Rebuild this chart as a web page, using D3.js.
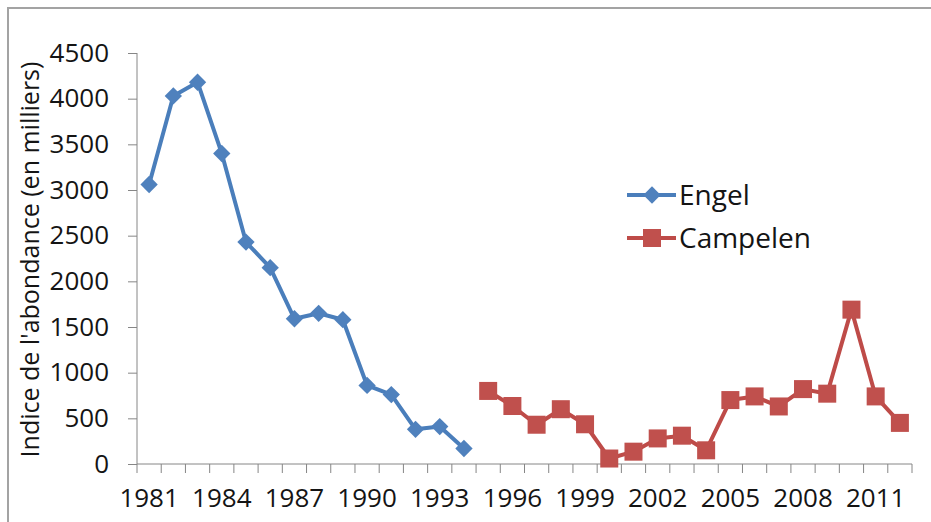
<!DOCTYPE html>
<html>
<head>
<meta charset="utf-8">
<script src="https://cdn.jsdelivr.net/npm/d3@7"></script>
<style>
  body { margin: 0; background: #fff; }
  text { font-family: "Open Sans", Lato, sans-serif; fill: #141414; }
</style>
</head>
<body>
<div id="chart"></div>
<script>
// Données
const years = d3.range(1981, 2013);
const engelYears = [1981, 1982, 1983, 1984, 1985, 1986, 1987, 1988, 1989, 1990, 1991, 1992, 1993, 1994];
const engelValues = [3060, 4030, 4180, 3400, 2430, 2150, 1590, 1650, 1580, 860, 760, 380, 410, 170];
const campelenYears = [1995, 1996, 1997, 1998, 1999, 2000, 2001, 2002, 2003, 2004, 2005, 2006, 2007, 2008, 2009, 2010, 2011, 2012];
const campelenValues = [800, 635, 430, 600, 435, 60, 135, 280, 310, 150, 700, 740, 630, 820, 770, 1690, 740, 450];
const yTicks = [0, 500, 1000, 1500, 2000, 2500, 3000, 3500, 4000, 4500];
const xLabels = [1981, 1984, 1987, 1990, 1993, 1996, 1999, 2002, 2005, 2008, 2011];

const width = 931, height = 522;
const margin = { top: 53, right: 19, bottom: 58, left: 137 };

const svg = d3.select("#chart")
  .append("svg")
  .attr("width", width)
  .attr("height", height);

// cadre
svg.append("rect")
  .attr("x", 8).attr("y", 8)
  .attr("width", 960).attr("height", 560)
  .attr("fill", "none")
  .attr("stroke", "#a3a3a3")
  .attr("stroke-width", 2);

const x = d3.scaleBand()
  .domain(years)
  .range([margin.left, width - margin.right])
  .padding(0);

const y = d3.scaleLinear()
  .domain([0, 4500])
  .range([height - margin.bottom, margin.top]);

const cx = d => x(d) + x.bandwidth() / 2;

// Axe Y
const yAxis = svg.append("g")
  .attr("transform", `translate(${margin.left},0)`)
  .call(d3.axisLeft(y).tickValues(yTicks).tickFormat(d3.format("d")).tickSize(9).tickPadding(19));
yAxis.selectAll("line, path").attr("stroke", "#868686");
yAxis.select(".domain").attr("d", `M0,${y(0)}V${y(4500)}`);
yAxis.selectAll("text")
  .style("font-size", "26px")
  .style("font-family", "'Open Sans', sans-serif")
  .attr("fill", "#141414");

// Axe X : graduations entre catégories
const xBase = y(0);
svg.append("line")
  .attr("x1", x.range()[0]).attr("x2", x.range()[1])
  .attr("y1", xBase).attr("y2", xBase)
  .attr("stroke", "#868686");
svg.append("g")
  .selectAll("line")
  .data(years.concat([null]))
  .join("line")
  .attr("x1", d => d === null ? x.range()[1] : x(d))
  .attr("x2", d => d === null ? x.range()[1] : x(d))
  .attr("y1", xBase).attr("y2", xBase + 9)
  .attr("stroke", "#868686");

const xAxis = svg.append("g")
  .attr("transform", `translate(0,${xBase})`)
  .call(d3.axisBottom(x).tickValues(xLabels).tickSize(0).tickPadding(25));
xAxis.select(".domain").remove();
xAxis.selectAll("text")
  .style("font-size", "26px")
  .style("font-family", "'Open Sans', sans-serif")
  .attr("fill", "#141414");

// Titre de l'axe Y
svg.append("text")
  .attr("transform", `translate(29,${(y(0) + y(4500)) / 2 + 1}) rotate(-90)`)
  .attr("text-anchor", "middle")
  .attr("dominant-baseline", "central")
  .style("font-size", "25px")
  .text("Indice de l'abondance (en milliers)");

const line = d3.line()
  .x(d => cx(d[0]))
  .y(d => y(d[1]));

const engel = engelYears.map((d, i) => [d, engelValues[i]]);
const campelen = campelenYears.map((d, i) => [d, campelenValues[i]]);

const blue = "#4a7ebb", blueM = "#4f81bd";
const red = "#be4b48", redM = "#c0504d";

svg.append("path")
  .datum(engel)
  .attr("d", line)
  .attr("fill", "none")
  .attr("stroke", blue)
  .attr("stroke-width", 4)
  .attr("stroke-linejoin", "round");

svg.append("path")
  .datum(campelen)
  .attr("d", line)
  .attr("fill", "none")
  .attr("stroke", red)
  .attr("stroke-width", 4)
  .attr("stroke-linejoin", "round");

const diamond = d3.symbol().type(d3.symbolSquare).size(150);

svg.append("g")
  .selectAll("path")
  .data(engel)
  .join("path")
  .attr("d", diamond)
  .attr("transform", d => `translate(${cx(d[0])},${y(d[1])}) rotate(45)`)
  .attr("fill", blueM);

svg.append("g")
  .selectAll("rect")
  .data(campelen)
  .join("rect")
  .attr("x", d => cx(d[0]) - 9)
  .attr("y", d => y(d[1]) - 9)
  .attr("width", 18)
  .attr("height", 18)
  .attr("fill", redM);

// Légende
const legendData = [
  { label: "Engel", color: blue, marker: blueM, type: "diamond" },
  { label: "Campelen", color: red, marker: redM, type: "square" }
];

const legend = svg.append("g")
  .attr("transform", "translate(627,195)");

const item = legend.selectAll("g")
  .data(legendData)
  .join("g")
  .attr("transform", (d, i) => `translate(0,${i * 43})`);

item.append("line")
  .attr("x1", 0).attr("x2", 49)
  .attr("stroke", d => d.color)
  .attr("stroke-width", 4);

item.each(function (d) {
  const g = d3.select(this);
  if (d.type === "diamond") {
    g.append("path")
      .attr("d", diamond)
      .attr("transform", "translate(25,0) rotate(45)")
      .attr("fill", d.marker);
  } else {
    g.append("rect")
      .attr("x", 16).attr("y", -9)
      .attr("width", 18).attr("height", 18)
      .attr("fill", d.marker);
  }
});

item.append("text")
  .attr("x", 52)
  .attr("dy", "0.36em")
  .style("font-size", "28px")
  .text(d => d.label);
</script>
</body>
</html>
